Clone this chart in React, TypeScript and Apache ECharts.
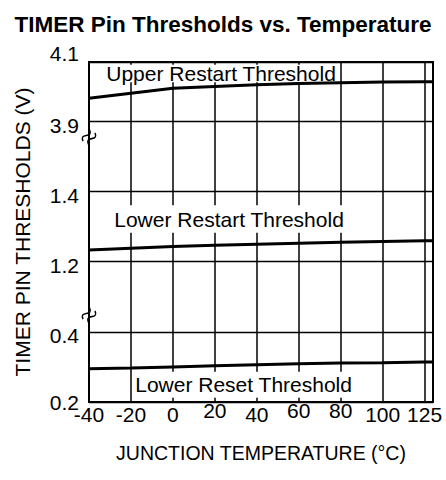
import React, { useEffect, useRef } from "react";
import * as echarts from "echarts";

// ---- data ----
const temps = [-40, -20, 0, 20, 40, 60, 80, 100, 125, 130];
const upperRestart = [3.977, 3.994, 4.011, 4.017, 4.023, 4.027, 4.03, 4.032, 4.033, 4.033];
const lowerRestart = [1.233, 1.238, 1.243, 1.246, 1.249, 1.252, 1.255, 1.257, 1.259, 1.259];
const lowerReset = [0.295, 0.297, 0.3, 0.303, 0.306, 0.309, 0.311, 0.312, 0.314, 0.314];
const seriesNames = ["Upper Restart Threshold", "Lower Restart Threshold", "Lower Reset Threshold"];

const tempTicks = [-40, -20, 0, 20, 40, 60, 80, 100, 125];
const raisedTicks = [20, 60, 80];
const voltTicks = [0.2, 0.4, 1.2, 1.4, 3.9, 4.1];
// virtual (broken-axis) position of each voltage tick
const voltKnots = [0, 1, 2, 3, 4, 4.84];
// axis-break marks (volts, inside the skipped ranges)
const breakMarks = [3.33, 0.59];

const FONT = "'Liberation Sans', Arial, Helvetica, sans-serif";

// temperature -> virtual x
function tx(t: number): number {
  if (t <= 100) return (t + 40) / 20;
  return 7 + (t - 100) / 25;
}
// volts -> virtual y (piecewise linear between knots)
function vy(v: number): number {
  for (let i = 0; i < voltTicks.length - 1; i++) {
    const a = voltTicks[i], b = voltTicks[i + 1];
    if (v <= b || i === voltTicks.length - 2) {
      return voltKnots[i] + ((v - a) / (b - a)) * (voltKnots[i + 1] - voltKnots[i]);
    }
  }
  return 0;
}

function mk(values: number[]) {
  return temps.map((t, i) => [tx(t), vy(values[i])]);
}

const BREAK_PATH =
  "path://M0 3 C 2 0, 4 0, 6 3 S 10 6, 12 3 M0 9 C 2 6, 4 6, 6 9 S 10 12, 12 9";

export default function App() {
  const ref = useRef<HTMLDivElement>(null);
  useEffect(() => {
    if (!ref.current) return;
    const chart = echarts.init(ref.current, undefined, { renderer: "svg" });
    const lineBase = {
      type: "line",
      showSymbol: false,
      symbol: "none",
      lineStyle: { color: "#000", width: 3 },
      z: 3,
    };
    const boxLabel = {
      show: true,
      position: "insideLeft",
      color: "#000",
      fontSize: 21,
      fontFamily: FONT,
    };
    const boxStyle = { color: "#fff", opacity: 1, borderWidth: 0 };
    const option: any = {
      animation: false,
      backgroundColor: "#fff",
      title: {
        text: "TIMER Pin Thresholds vs. Temperature",
        left: "center",
        top: 8,
        textStyle: { fontSize: 22.5, fontWeight: "bold", color: "#000", fontFamily: FONT },
      },
      grid: {
        left: 89,
        top: 62,
        width: 344,
        height: 340,
        show: true,
        borderColor: "#000",
        borderWidth: 2,
        backgroundColor: "transparent",
      },
      xAxis: {
        type: "value",
        min: 0,
        max: tx(130),
        interval: 1,
        name: "JUNCTION TEMPERATURE (°C)",
        nameLocation: "middle",
        nameGap: 41,
        nameTextStyle: { fontSize: 19.5, color: "#000", fontFamily: FONT },
        axisLine: { show: true, lineStyle: { color: "#000", width: 2 } },
        axisTick: { show: false },
        splitLine: { show: false },
        axisLabel: {
          margin: -2,
          color: "#000",
          fontSize: 21,
          fontFamily: FONT,
          showMaxLabel: true,
          formatter: (v: number) => {
            const i = Math.round(v);
            if (Math.abs(v - i) > 1e-6 || i >= tempTicks.length) return "";
            const t = tempTicks[i];
            return raisedTicks.includes(t) ? `{u|${t}}` : `{d|${t}}`;
          },
          rich: {
            u: { fontSize: 21, fontFamily: FONT, color: "#000", padding: [0, 0, 0, 0] },
            d: { fontSize: 21, fontFamily: FONT, color: "#000", padding: [4, 0, 0, 0] },
          },
        },
      },
      yAxis: {
        type: "value",
        min: 0,
        max: voltKnots[voltKnots.length - 1],
        interval: 1,
        name: "TIMER PIN THRESHOLDS (V)",
        nameLocation: "middle",
        nameGap: 56,
        nameTextStyle: { fontSize: 21, color: "#000", fontFamily: FONT },
        axisLine: { show: true, lineStyle: { color: "#000", width: 2 } },
        axisTick: { show: false },
        splitLine: { show: true, lineStyle: { color: "#000", width: 1.4 } },
        axisLabel: {
          margin: 10,
          color: "#000",
          fontSize: 21,
          fontFamily: FONT,
          showMaxLabel: true,
          showMinLabel: true,
          formatter: (v: number) => {
            const i = voltKnots.findIndex((k) => Math.abs(k - v) < 1e-6);
            if (i < 0) return "";
            const s = voltTicks[i].toFixed(1);
            if (i === voltKnots.length - 1) return `{t|${s}}`;
            if (i === 0) return `{z|${s}}`;
            return `{m|${s}}`;
          },
          rich: {
            t: { fontSize: 21, fontFamily: FONT, color: "#000", padding: [0, 0, 18, 0] },
            m: { fontSize: 21, fontFamily: FONT, color: "#000", padding: [8, 0, 0, 0] },
            z: { fontSize: 21, fontFamily: FONT, color: "#000" },
          },
        },
      },
      series: [
        {
          ...lineBase,
          name: seriesNames[0],
          data: mk(upperRestart),
          markLine: {
            silent: true,
            z: 0.5,
            symbol: ["none", "none"],
            label: { show: false },
            lineStyle: { color: "#000", width: 1.5, type: "solid" },
            data: tempTicks.slice(1).map((t) => [
              { coord: [tx(t), 0] },
              { coord: [tx(t), voltKnots[voltKnots.length - 1]] },
            ]),
          },
          markArea: {
            silent: true,
            z: 1,
            itemStyle: boxStyle,
            label: { ...boxLabel, distance: 16 },
            data: [[{ name: seriesNames[0], coord: [0.03, 4.8] }, { coord: [5.95, 4.55] }]],
          },
        },
        {
          ...lineBase,
          name: seriesNames[1],
          data: mk(lowerRestart),
          markArea: {
            silent: true,
            z: 1,
            itemStyle: boxStyle,
            label: { ...boxLabel, distance: 24 },
            data: [[{ name: seriesNames[1], coord: [0.03, 2.8] }, { coord: [6.13, 2.41] }]],
          },
        },
        {
          ...lineBase,
          name: seriesNames[2],
          data: mk(lowerReset),
          markArea: {
            silent: true,
            z: 1,
            itemStyle: boxStyle,
            label: { ...boxLabel, distance: 3 },
            data: [[{ name: seriesNames[2], coord: [1.03, 0.43] }, { coord: [6.29, 0.06] }]],
          },
          markPoint: {
            silent: true,
            symbol: BREAK_PATH,
            symbolSize: [13, 11],
            symbolRotate: 60,
            itemStyle: { color: "none", borderColor: "#000", borderWidth: 1.5 },
            label: { show: false },
            data: breakMarks.map((b) => ({ coord: [0, vy(b)] })),
          },
        },
      ],
    };
    chart.setOption(option);
    return () => chart.dispose();
  }, []);
  return (
    <div
      ref={ref}
      style={{ position: "fixed", left: 0, top: 0, width: 446, height: 480, background: "#fff" }}
    />
  );
}
